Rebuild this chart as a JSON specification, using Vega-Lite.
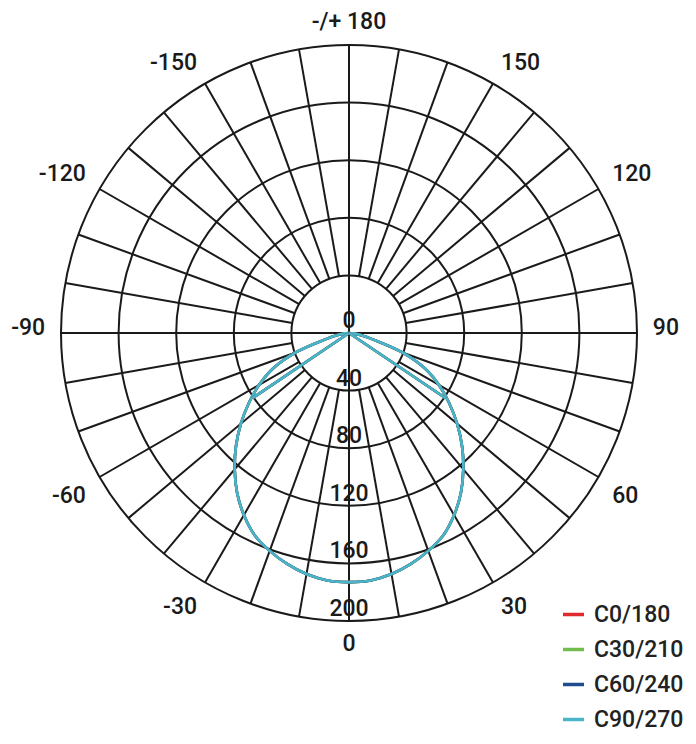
{
  "$schema": "https://vega.github.io/schema/vega-lite/v6.json",
  "width": 696,
  "height": 744,
  "autosize": {"type": "none"},
  "padding": 0,
  "background": "white",
  "config": {"view": {"stroke": null}},
  "datasets": {
    "curve": [
      {"part": "main", "g": -90, "C0/180": 0, "C30/210": 0, "C60/240": 0, "C90/270": 0},
      {"part": "main", "g": -85, "C0/180": 3, "C30/210": 3, "C60/240": 3, "C90/270": 3},
      {"part": "main", "g": -80, "C0/180": 8, "C30/210": 8, "C60/240": 8, "C90/270": 8},
      {"part": "main", "g": -75, "C0/180": 17, "C30/210": 17, "C60/240": 17, "C90/270": 17},
      {"part": "main", "g": -70, "C0/180": 39, "C30/210": 39, "C60/240": 39, "C90/270": 39},
      {"part": "main", "g": -65, "C0/180": 58, "C30/210": 58, "C60/240": 58, "C90/270": 58},
      {"part": "main", "g": -60, "C0/180": 72, "C30/210": 72, "C60/240": 72, "C90/270": 72},
      {"part": "main", "g": -55, "C0/180": 85, "C30/210": 85, "C60/240": 85, "C90/270": 85},
      {"part": "main", "g": -50, "C0/180": 98, "C30/210": 98, "C60/240": 98, "C90/270": 98},
      {"part": "main", "g": -45, "C0/180": 111, "C30/210": 111, "C60/240": 111, "C90/270": 111},
      {"part": "main", "g": -40, "C0/180": 123.5, "C30/210": 123.5, "C60/240": 123.5, "C90/270": 123.5},
      {"part": "main", "g": -35, "C0/180": 135.5, "C30/210": 135.5, "C60/240": 135.5, "C90/270": 135.5},
      {"part": "main", "g": -30, "C0/180": 146, "C30/210": 146, "C60/240": 146, "C90/270": 146},
      {"part": "main", "g": -25, "C0/180": 155, "C30/210": 155, "C60/240": 155, "C90/270": 155},
      {"part": "main", "g": -20, "C0/180": 161, "C30/210": 161, "C60/240": 161, "C90/270": 161},
      {"part": "main", "g": -15, "C0/180": 166, "C30/210": 166, "C60/240": 166, "C90/270": 166},
      {"part": "main", "g": -10, "C0/180": 170, "C30/210": 170, "C60/240": 170, "C90/270": 170},
      {"part": "main", "g": -5, "C0/180": 172.5, "C30/210": 172.5, "C60/240": 172.5, "C90/270": 172.5},
      {"part": "main", "g": 0, "C0/180": 173, "C30/210": 173, "C60/240": 173, "C90/270": 173},
      {"part": "main", "g": 5, "C0/180": 172.5, "C30/210": 172.5, "C60/240": 172.5, "C90/270": 172.5},
      {"part": "main", "g": 10, "C0/180": 170, "C30/210": 170, "C60/240": 170, "C90/270": 170},
      {"part": "main", "g": 15, "C0/180": 166, "C30/210": 166, "C60/240": 166, "C90/270": 166},
      {"part": "main", "g": 20, "C0/180": 161, "C30/210": 161, "C60/240": 161, "C90/270": 161},
      {"part": "main", "g": 25, "C0/180": 155, "C30/210": 155, "C60/240": 155, "C90/270": 155},
      {"part": "main", "g": 30, "C0/180": 146, "C30/210": 146, "C60/240": 146, "C90/270": 146},
      {"part": "main", "g": 35, "C0/180": 135.5, "C30/210": 135.5, "C60/240": 135.5, "C90/270": 135.5},
      {"part": "main", "g": 40, "C0/180": 123.5, "C30/210": 123.5, "C60/240": 123.5, "C90/270": 123.5},
      {"part": "main", "g": 45, "C0/180": 111, "C30/210": 111, "C60/240": 111, "C90/270": 111},
      {"part": "main", "g": 50, "C0/180": 98, "C30/210": 98, "C60/240": 98, "C90/270": 98},
      {"part": "main", "g": 55, "C0/180": 85, "C30/210": 85, "C60/240": 85, "C90/270": 85},
      {"part": "main", "g": 60, "C0/180": 72, "C30/210": 72, "C60/240": 72, "C90/270": 72},
      {"part": "main", "g": 65, "C0/180": 58, "C30/210": 58, "C60/240": 58, "C90/270": 58},
      {"part": "main", "g": 70, "C0/180": 39, "C30/210": 39, "C60/240": 39, "C90/270": 39},
      {"part": "main", "g": 75, "C0/180": 17, "C30/210": 17, "C60/240": 17, "C90/270": 17},
      {"part": "main", "g": 80, "C0/180": 8, "C30/210": 8, "C60/240": 8, "C90/270": 8},
      {"part": "main", "g": 85, "C0/180": 3, "C30/210": 3, "C60/240": 3, "C90/270": 3},
      {"part": "main", "g": 90, "C0/180": 0, "C30/210": 0, "C60/240": 0, "C90/270": 0},
      {"part": "cutL", "g": -90, "C0/180": 0, "C30/210": 0, "C60/240": 0, "C90/270": 0},
      {"part": "cutL", "g": -56, "C0/180": 81, "C30/210": 81, "C60/240": 81, "C90/270": 81},
      {"part": "cutR", "g": 56, "C0/180": 81, "C30/210": 81, "C60/240": 81, "C90/270": 81},
      {"part": "cutR", "g": 90, "C0/180": 0, "C30/210": 0, "C60/240": 0, "C90/270": 0}
    ],
    "rings": [{"r": 40}, {"r": 80}, {"r": 120}, {"r": 160}, {"r": 200}],
    "spokes": [
      {"g": 0}, {"g": 10}, {"g": 20}, {"g": 30}, {"g": 40}, {"g": 50}, {"g": 60}, {"g": 70}, {"g": 80},
      {"g": 90}, {"g": 100}, {"g": 110}, {"g": 120}, {"g": 130}, {"g": 140}, {"g": 150}, {"g": 160}, {"g": 170},
      {"g": 180}, {"g": 190}, {"g": 200}, {"g": 210}, {"g": 220}, {"g": 230}, {"g": 240}, {"g": 250}, {"g": 260},
      {"g": 270}, {"g": 280}, {"g": 290}, {"g": 300}, {"g": 310}, {"g": 320}, {"g": 330}, {"g": 340}, {"g": 350}
    ],
    "axes": [{"g": 0}, {"g": 90}],
    "radlabels": [{"v": 0}, {"v": 40}, {"v": 80}, {"v": 120}, {"v": 160}, {"v": 200}],
    "anglelabels": [
      {"g": 180, "label": "-/+ 180"},
      {"g": 150, "label": "150"},
      {"g": 120, "label": "120"},
      {"g": 90, "label": "90"},
      {"g": 60, "label": "60"},
      {"g": 30, "label": "30"},
      {"g": 0, "label": "0"},
      {"g": -30, "label": "-30"},
      {"g": -60, "label": "-60"},
      {"g": -90, "label": "-90"},
      {"g": -120, "label": "-120"},
      {"g": -150, "label": "-150"}
    ]
  },
  "layer": [
    {
      "data": {"name": "rings"},
      "mark": {"type": "arc", "filled": false, "fill": null, "stroke": "#1a1a1a", "strokeWidth": 2, "theta": 0, "theta2": 6.2832},
      "encoding": {
        "x": {"datum": 0, "type": "quantitative", "scale": {"domain": [-242.36, 240.97], "nice": false, "zero": false}, "axis": null},
        "y": {"datum": 0, "type": "quantitative", "scale": {"domain": [-285.42, 231.25], "nice": false, "zero": false}, "axis": null},
        "radius": {"field": "r", "type": "quantitative", "stack": null, "scale": {"type": "linear", "domain": [0, 200], "range": [0, 288], "zero": true, "nice": false}}
      }
    },
    {
      "data": {"name": "spokes"},
      "transform": [
        {"calculate": "40*sin(datum.g*PI/180)", "as": "x1"},
        {"calculate": "40*cos(datum.g*PI/180)", "as": "y1"},
        {"calculate": "200*sin(datum.g*PI/180)", "as": "x2"},
        {"calculate": "200*cos(datum.g*PI/180)", "as": "y2"}
      ],
      "mark": {"type": "rule", "stroke": "#1a1a1a", "strokeWidth": 2},
      "encoding": {
        "x": {"field": "x1", "type": "quantitative", "scale": {"domain": [-242.36, 240.97], "nice": false, "zero": false}, "axis": null},
        "y": {"field": "y1", "type": "quantitative", "scale": {"domain": [-285.42, 231.25], "nice": false, "zero": false}, "axis": null},
        "x2": {"field": "x2"},
        "y2": {"field": "y2"}
      }
    },
    {
      "data": {"name": "axes"},
      "transform": [
        {"calculate": "-200*sin(datum.g*PI/180)", "as": "x1"},
        {"calculate": "-200*cos(datum.g*PI/180)", "as": "y1"},
        {"calculate": "200*sin(datum.g*PI/180)", "as": "x2"},
        {"calculate": "200*cos(datum.g*PI/180)", "as": "y2"}
      ],
      "mark": {"type": "rule", "stroke": "#1a1a1a", "strokeWidth": 2},
      "encoding": {
        "x": {"field": "x1", "type": "quantitative", "scale": {"domain": [-242.36, 240.97], "nice": false, "zero": false}, "axis": null},
        "y": {"field": "y1", "type": "quantitative", "scale": {"domain": [-285.42, 231.25], "nice": false, "zero": false}, "axis": null},
        "x2": {"field": "x2"},
        "y2": {"field": "y2"}
      }
    },
    {
      "data": {"name": "curve"},
      "transform": [
        {"fold": ["C0/180", "C30/210", "C60/240", "C90/270"], "as": ["plane", "v"]},
        {"calculate": "datum.v*sin(datum.g*PI/180)", "as": "px"},
        {"calculate": "-datum.v*cos(datum.g*PI/180)", "as": "py"}
      ],
      "mark": {"type": "line", "strokeWidth": 2.6, "interpolate": "catmull-rom"},
      "encoding": {
        "x": {"field": "px", "type": "quantitative", "scale": {"domain": [-242.36, 240.97], "nice": false, "zero": false}, "axis": null},
        "y": {"field": "py", "type": "quantitative", "scale": {"domain": [-285.42, 231.25], "nice": false, "zero": false}, "axis": null},
        "color": {
          "field": "plane",
          "type": "nominal",
          "scale": {"domain": ["C0/180", "C30/210", "C60/240", "C90/270"], "range": ["#e02a2f", "#72bd4f", "#1f4d8f", "#4ab5c8"]},
          "legend": {
            "orient": "none",
            "legendX": 561,
            "legendY": 602,
            "title": null,
            "padding": 0,
            "symbolType": "stroke",
            "symbolSize": 441,
            "symbolStrokeWidth": 3.5,
            "labelFont": "Roboto",
            "labelFontWeight": 500,
            "labelFontSize": 23,
            "labelColor": "#222222",
            "labelOffset": 8,
            "rowPadding": 10
          }
        },
        "detail": {"field": "part"},
        "order": {"field": "g", "type": "quantitative"}
      }
    },
    {
      "data": {"name": "radlabels"},
      "transform": [{"calculate": "-datum.v", "as": "ny"}],
      "mark": {"type": "text", "font": "Roboto", "fontWeight": 500, "fontSize": 23, "baseline": "alphabetic", "align": "center", "dy": -5, "color": "#1a1a1a"},
      "encoding": {
        "x": {"datum": 0, "type": "quantitative", "scale": {"domain": [-242.36, 240.97], "nice": false, "zero": false}, "axis": null},
        "y": {"field": "ny", "type": "quantitative", "scale": {"domain": [-285.42, 231.25], "nice": false, "zero": false}, "axis": null},
        "text": {"field": "v", "type": "quantitative"}
      }
    },
    {
      "data": {"name": "anglelabels"},
      "transform": [
        {"calculate": "211*sin(datum.g*PI/180)", "as": "lx"},
        {"calculate": "-211*cos(datum.g*PI/180)", "as": "ly"}
      ],
      "mark": {
        "type": "text",
        "font": "Roboto",
        "fontWeight": 500,
        "fontSize": 23,
        "color": "#1a1a1a",
        "align": {"expr": "(datum.g == 0 || datum.g == 180) ? 'center' : (datum.g > 0 ? 'left' : 'right')"},
        "baseline": {"expr": "abs(datum.g) > 90 ? 'alphabetic' : (abs(datum.g) < 90 ? 'top' : 'middle')"},
        "dy": {"expr": "abs(datum.g) == 90 ? -5 : (datum.g == 0 ? -4 : 0)"}
      },
      "encoding": {
        "x": {"field": "lx", "type": "quantitative", "scale": {"domain": [-242.36, 240.97], "nice": false, "zero": false}, "axis": null},
        "y": {"field": "ly", "type": "quantitative", "scale": {"domain": [-285.42, 231.25], "nice": false, "zero": false}, "axis": null},
        "text": {"field": "label", "type": "nominal"}
      }
    }
  ]
}
